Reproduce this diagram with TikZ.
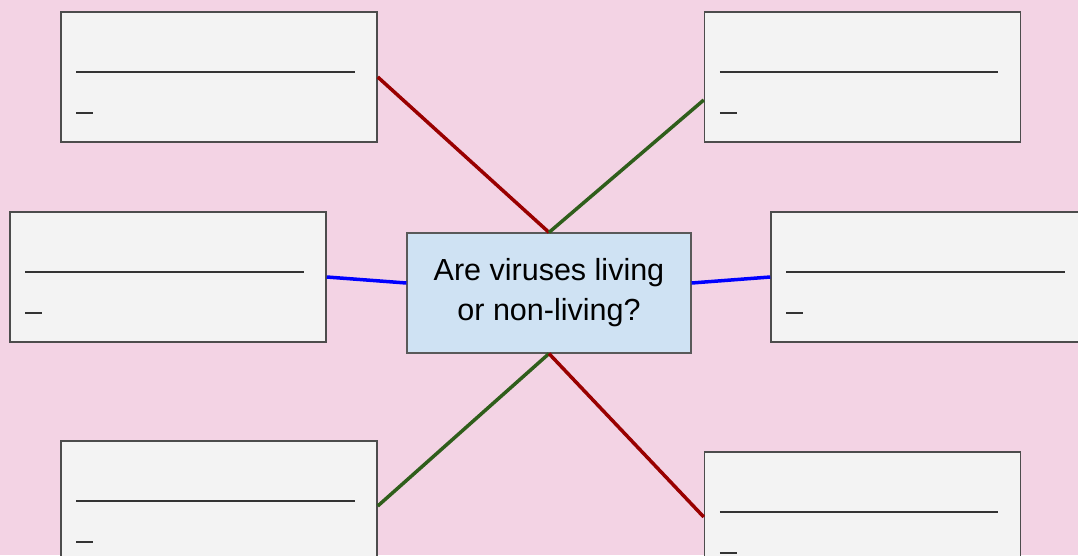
\documentclass[tikz,border=0pt]{standalone}
\usepackage{fontspec}
\setmainfont{Liberation Sans}
\usetikzlibrary{positioning}
\definecolor{bgpink}{HTML}{F3D3E4}
\definecolor{boxgray}{HTML}{F3F3F3}
\definecolor{qblue}{HTML}{CFE2F3}
\definecolor{linered}{HTML}{990000}
\definecolor{linegreen}{HTML}{2F5E1B}
\tikzset{
	answer/.style={draw=black!70,line width=1.5pt,fill=boxgray,minimum width=316pt,minimum height=130pt,inner sep=0pt},
	question/.style={draw=black!65,line width=1.2pt,fill=qblue,minimum width=284pt,minimum height=120pt,align=center,font=\fontsize{30.5}{40}\selectfont},
	blank/.style={line width=2.5pt,black!80},
	link/.style={line width=3.5pt}
}
\begin{document}
\begin{tikzpicture}[x=1pt,y=-1pt]
	\fill[bgpink] (0,0) rectangle (1078,555);
	\useasboundingbox (0,0) rectangle (1078,555);
	\clip (0,0) rectangle (1078,555);
	\path
		  (549,  293) node[question] (q)  {Are viruses living\\or non-living?}
		  (219,   77) node[answer]   (tl) {}
		  (862.5, 77) node[answer]   (tr) {}
		  (168,  277) node[answer]   (ml) {}
		  (929,  277) node[answer]   (mr) {}
		  (219,  506) node[answer]   (bl) {}
		  (862.5,517) node[answer]   (br) {}
	;
	\foreach \b in {tl,tr,ml,mr,bl,br} {
		\draw[blank] ([xshift=16pt,yshift=5pt]\b.west) -- ([xshift=-23pt,yshift=5pt]\b.east);
		\draw[blank] ([xshift=16pt,yshift=-36pt]\b.west) -- ([xshift=33pt,yshift=-36pt]\b.west);
	}
	\draw[link,linered]   (tl.east)  -- (q.north);
	\draw[link,linegreen] (q.north)  -- ([yshift=-23pt]tr.west);
	\draw[link,blue]      (ml.east)  -- ([yshift=10pt]q.west);
	\draw[link,blue]      ([yshift=10pt]q.east) -- (mr.west);
	\draw[link,linegreen] (q.south)  -- (bl.east);
	\draw[link,linered]   (q.south)  -- (br.west);
\end{tikzpicture}
\end{document}
